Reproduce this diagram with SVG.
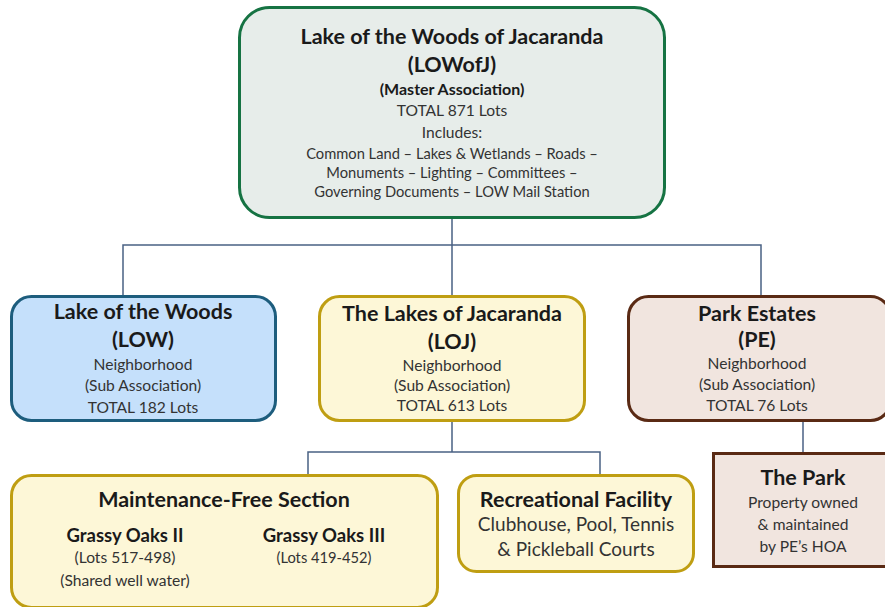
<svg xmlns="http://www.w3.org/2000/svg" width="885" height="607" viewBox="0 0 885 607">
<style>
text{font-family:Lato,"Liberation Sans",sans-serif;fill:#1a1a1a;text-anchor:middle}
.h{font-weight:bold;font-size:21.5px}
.hs{font-weight:bold;font-size:18.5px}
.b{font-size:15.6px;fill:#333}
.s{font-size:14.7px;fill:#333}
.m{font-size:19px;fill:#333}
.conn{fill:none;stroke:#4a6184;stroke-width:1.5}
.gold{fill:#fdf7d7;stroke:#bf9e12;stroke-width:3}
.brown{fill:#f1e5df;stroke:#5a2a14;stroke-width:3}
</style>
<rect width="885" height="607" fill="#ffffff"/>
<g id="connectors">
<path class="conn" d="M452 218V245M123 297V245H761V297M452 245V297"/>
<path class="conn" d="M452 421V452M308 475V452H600V475"/>
<path class="conn" d="M803 421V453"/>
</g>
<g id="master">
<rect x="239.5" y="7.5" width="425" height="210" rx="30" fill="#e7edea" stroke="#167343" stroke-width="3"/>
<text class="h" x="452" y="44">Lake of the Woods of Jacaranda</text>
<text class="h" x="452" y="72">(LOWofJ)</text>
<text x="452" y="95" style="font-weight:bold;font-size:16px">(Master Association)</text>
<text class="b" x="452" y="116">TOTAL 871 Lots</text>
<text class="b" x="452" y="138">Includes:</text>
<text class="s" x="452" y="159">Common Land – Lakes &amp; Wetlands – Roads –</text>
<text class="s" x="452" y="178">Monuments – Lighting – Committees –</text>
<text class="s" x="452" y="197">Governing Documents – LOW Mail Station</text>
</g>
<g id="low">
<rect x="11.5" y="296.5" width="264" height="124" rx="20" fill="#c5e0fb" stroke="#1d5d7d" stroke-width="3"/>
<text class="h" x="143" y="319">Lake of the Woods</text>
<text class="h" x="143" y="347">(LOW)</text>
<text class="b" x="143" y="370">Neighborhood</text>
<text class="b" x="143" y="391">(Sub Association)</text>
<text class="b" x="143" y="413">TOTAL 182 Lots</text>
</g>
<g id="loj">
<rect x="319.5" y="296.5" width="265" height="124" rx="20" class="gold"/>
<text class="h" x="452" y="321">The Lakes of Jacaranda</text>
<text class="h" x="452" y="349">(LOJ)</text>
<text class="b" x="452" y="371">Neighborhood</text>
<text class="b" x="452" y="391">(Sub Association)</text>
<text class="b" x="452" y="411">TOTAL 613 Lots</text>
</g>
<g id="pe">
<rect x="628.5" y="296.5" width="262" height="124" rx="20" class="brown"/>
<text class="h" x="757" y="321">Park Estates</text>
<text class="h" x="757" y="347">(PE)</text>
<text class="b" x="757" y="369">Neighborhood</text>
<text class="b" x="757" y="390">(Sub Association)</text>
<text class="b" x="757" y="411">TOTAL 76 Lots</text>
</g>
<g id="maintenance">
<rect x="11.5" y="475.5" width="426" height="132" rx="20" class="gold"/>
<text class="h" x="224" y="507">Maintenance-Free Section</text>
<text class="hs" x="125" y="542">Grassy Oaks II</text>
<text class="b" x="125" y="563">(Lots 517-498)</text>
<text class="b" x="125" y="586">(Shared well water)</text>
<text class="hs" x="324" y="542">Grassy Oaks III</text>
<text class="s" x="324" y="563">(Lots 419-452)</text>
</g>
<g id="recreational">
<rect x="458.5" y="475.5" width="235" height="96" rx="18" class="gold"/>
<text class="h" x="576" y="507">Recreational Facility</text>
<text class="m" x="576" y="531">Clubhouse, Pool, Tennis</text>
<text class="m" x="576" y="556">&amp; Pickleball Courts</text>
</g>
<g id="park">
<rect x="713.5" y="453.5" width="175" height="113" class="brown"/>
<text class="h" x="803" y="485">The Park</text>
<text class="b" x="803" y="508">Property owned</text>
<text class="b" x="803" y="530">&amp; maintained</text>
<text class="b" x="803" y="552">by PE’s HOA</text>
</g>
</svg>
